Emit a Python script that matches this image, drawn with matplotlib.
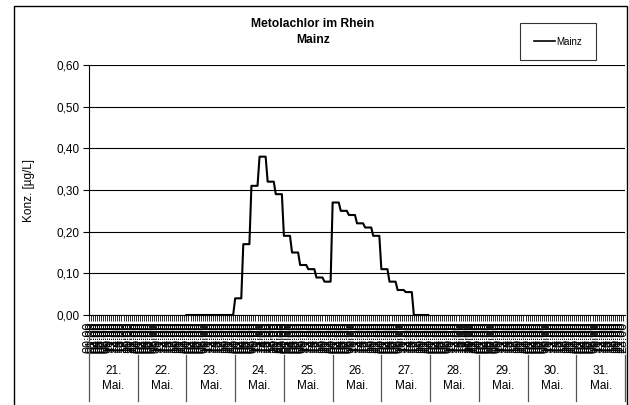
import matplotlib
matplotlib.use("Agg")
import matplotlib.pyplot as plt
from matplotlib.lines import Line2D
from matplotlib.patches import Rectangle

plt.rcParams['font.family'] = ['Liberation Sans', 'DejaVu Sans']

# ---- data ----
title = "Metolachlor im Rhein\nMainz"
series_name = "Mainz"
y_label = "Konz. [µg/L]"
day_labels = ["21.\nMai.", "22.\nMai.", "23.\nMai.", "24.\nMai.", "25.\nMai.", "26.\nMai.",
              "27.\nMai.", "28.\nMai.", "29.\nMai.", "30.\nMai.", "31.\nMai."]
y_ticks = [0.0, 0.1, 0.2, 0.3, 0.4, 0.5, 0.6]
y_ticklabels = ["0,00", "0,10", "0,20", "0,30", "0,40", "0,50", "0,60"]
# hourly measurement index (hours since 21 May 00:00), 23 May 00:00 .. 27 May 23:00
start_hour = 48
conc = [
    # 23 May
    0, 0, 0, 0, 0, 0, 0, 0, 0, 0, 0, 0, 0, 0, 0, 0, 0, 0, 0, 0, 0, 0, 0, 0,
    # 24 May
    0.04, 0.04, 0.04, 0.04, 0.17, 0.17, 0.17, 0.17, 0.31, 0.31, 0.31, 0.31,
    0.38, 0.38, 0.38, 0.38, 0.32, 0.32, 0.32, 0.32, 0.29, 0.29, 0.29, 0.29,
    # 25 May
    0.19, 0.19, 0.19, 0.19, 0.15, 0.15, 0.15, 0.15, 0.12, 0.12, 0.12, 0.12,
    0.11, 0.11, 0.11, 0.11, 0.09, 0.09, 0.09, 0.09, 0.08, 0.08, 0.08, 0.08,
    # 26 May
    0.27, 0.27, 0.27, 0.27, 0.25, 0.25, 0.25, 0.25, 0.24, 0.24, 0.24, 0.24,
    0.22, 0.22, 0.22, 0.22, 0.21, 0.21, 0.21, 0.21, 0.19, 0.19, 0.19, 0.19,
    # 27 May
    0.11, 0.11, 0.11, 0.11, 0.08, 0.08, 0.08, 0.08, 0.06, 0.06, 0.06, 0.06,
    0.055, 0.055, 0.055, 0.055, 0, 0, 0, 0, 0, 0, 0, 0,
]
n_days = len(day_labels)
n_hours = n_days * 24
hour_labels = ["%02d:00" % (h % 24) for h in range(n_hours)]

# ---- figure ----
fig = plt.figure(figsize=(6.29, 4.05), dpi=100)
W, H = 629, 405
ax = fig.add_axes([89 / W, 1 - 315 / H, (625 - 89) / W, (315 - 65) / H])

hours = list(range(start_hour, start_hour + len(conc)))
ax.plot(hours, conc, color="black", lw=1.5, label=series_name, zorder=3, clip_on=False)

ax.set_xlim(0, n_hours)
ax.set_ylim(0, 0.6)
ax.set_yticks(y_ticks)
ax.set_yticklabels(y_ticklabels, fontsize=8.5)
ax.yaxis.grid(True, color="black", lw=0.8)
ax.set_axisbelow(True)
ax.tick_params(axis="y", length=4, width=0.8, pad=3)

ax.set_xticks(range(n_hours))
ax.set_xticklabels(hour_labels, rotation=90, fontsize=9)
ax.tick_params(axis="x", length=4, width=0.6, pad=1)

for s in ["top", "right"]:
    ax.spines[s].set_visible(False)
ax.spines["left"].set_linewidth(0.8)
ax.spines["bottom"].set_linewidth(0.8)

ax.set_ylabel(y_label, fontsize=8.5)
ax.yaxis.set_label_coords((35 - 89) / 536, 0.5)

# day group labels and separators
for i, lab in enumerate(day_labels):
    ax.text((i + 0.5) / n_days, -0.255, lab, transform=ax.transAxes,
            ha="center", va="center", fontsize=8.5, linespacing=1.3)
for i in range(n_days + 1):
    x = i / n_days
    y0 = -0.06 if i == 0 else -0.16
    ax.add_line(Line2D([x, x], [y0, -0.345], transform=ax.transAxes,
                       color="#555555", lw=0.9, clip_on=False))

# title
fig.text(313 / W, 1 - 32 / H, title, ha="center", va="center",
         fontsize=8.7, fontweight="bold", linespacing=1.35)

# legend
leg = fig.legend(loc="upper right", bbox_to_anchor=(596 / W, 1 - 23 / H),
                 bbox_transform=fig.transFigure, fontsize=7, frameon=True,
                 fancybox=False, edgecolor="black", borderpad=1.4,
                 handlelength=2.2, handletextpad=0.15, borderaxespad=0)
leg.get_frame().set_linewidth(0.8)
for l in leg.get_lines():
    l.set_linewidth(1.2)

# outer chart frame
fig.add_artist(Rectangle((14 / W, -0.02), (627 - 14) / W, 1 - 6 / H + 0.02,
                         transform=fig.transFigure, fill=False,
                         edgecolor="black", lw=1.0))

fig.savefig("out.png", dpi=100)
